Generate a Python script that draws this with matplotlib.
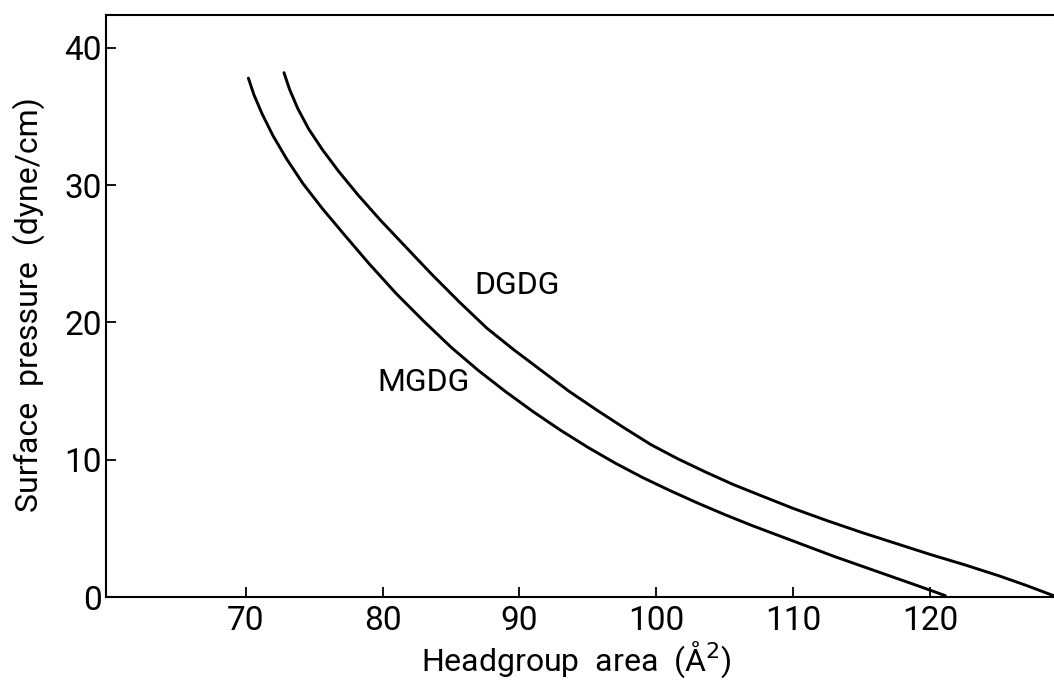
import matplotlib.pyplot as plt

# Isotherms: headgroup area (A^2) vs surface pressure (dyne/cm)
mgdg_area = [70.2, 70.6, 71.2, 72.0, 73.0, 74.2, 75.6, 77.2, 79.0, 81.0, 83.0,
             85.0, 87.0, 89.0, 91.0, 93.0, 95.0, 97.0, 99.0, 101.0, 103.0,
             105.0, 107.0, 109.0, 111.0, 113.0, 115.0, 117.0, 119.0, 121.1]
mgdg_pressure = [37.8, 36.6, 35.2, 33.6, 31.9, 30.1, 28.3, 26.4, 24.3, 22.1, 20.1,
                 18.2, 16.5, 14.95, 13.5, 12.15, 10.9, 9.75, 8.7, 7.75, 6.85,
                 6.0, 5.2, 4.45, 3.7, 2.95, 2.25, 1.55, 0.85, 0.1]

dgdg_area = [72.8, 73.2, 73.8, 74.6, 75.6, 76.8, 78.2, 79.8, 81.6, 83.6, 85.6,
             87.6, 89.6, 91.6, 93.6, 95.6, 97.6, 99.6, 101.6, 103.6, 105.6,
             107.6, 110.0, 112.5, 115.0, 117.5, 120.0, 122.5, 125.0, 127.0, 129.0]
dgdg_pressure = [38.2, 37.0, 35.6, 34.1, 32.6, 31.0, 29.3, 27.5, 25.6, 23.5, 21.5,
                 19.6, 18.0, 16.5, 15.0, 13.65, 12.35, 11.1, 10.05, 9.1, 8.2,
                 7.4, 6.45, 5.55, 4.7, 3.9, 3.1, 2.35, 1.55, 0.85, 0.1]

xticks = [70, 80, 90, 100, 110, 120]
yticks = [0, 10, 20, 30, 40]

plt.rcParams['font.family'] = ['Roboto', 'DejaVu Sans']

fig = plt.figure(figsize=(10.54, 6.8), dpi=100)
ax = fig.add_axes([106 / 1054, 83 / 680, 948 / 1054, 582 / 680])

ax.plot(mgdg_area, mgdg_pressure, color='black', lw=2.1, solid_capstyle='round')
ax.plot(dgdg_area, dgdg_pressure, color='black', lw=2.1, solid_capstyle='round')

ax.text(89.8, 22.7, 'DGDG', fontsize=23, ha='center', va='center')
ax.text(83.0, 15.6, 'MGDG', fontsize=23, ha='center', va='center')

ax.set_xlim(59.8, 129.04)
ax.set_ylim(0, 42.4)
ax.set_xticks(xticks)
ax.set_yticks(yticks)
ax.tick_params(direction='in', length=7, width=1.3, labelsize=24)
ax.tick_params(axis='x', pad=6)
ax.tick_params(axis='y', pad=3)

ax.spines['right'].set_visible(False)
for s in ['top', 'left', 'bottom']:
    ax.spines[s].set_linewidth(1.5)

ax.set_xlabel('Headgroup  area  (Å$^2$)', fontsize=23, va='baseline')
ax.xaxis.set_label_coords(0.496, -0.127)
ax.set_ylabel('Surface  pressure  (dyne/cm)', fontsize=23, va='center')
ax.yaxis.set_label_coords(-0.082, 0.503)

fig.savefig('out.png', dpi=100)
